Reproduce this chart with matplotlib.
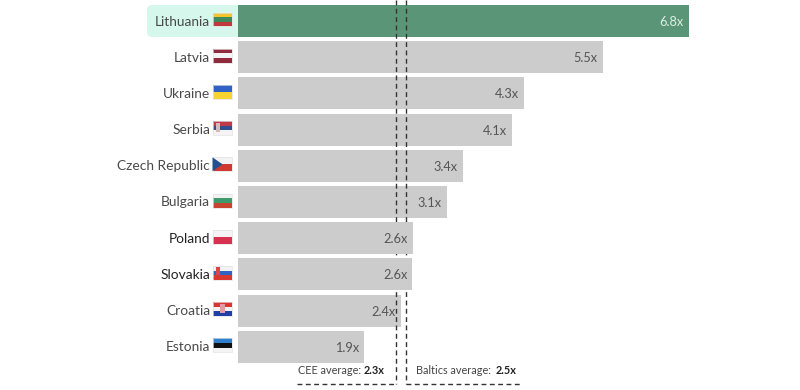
import matplotlib.pyplot as plt
from matplotlib.patches import Rectangle, FancyBboxPatch, Polygon

countries = ['Lithuania', 'Latvia', 'Ukraine', 'Serbia', 'Czech Republic',
             'Bulgaria', 'Poland', 'Slovakia', 'Croatia', 'Estonia']
values = [6.8, 5.5, 4.31, 4.13, 3.39, 3.15, 2.64, 2.63, 2.46, 1.9]
labels = ['6.8x', '5.5x', '4.3x', '4.1x', '3.4x', '3.1x', '2.6x', '2.6x', '2.4x', '1.9x']
flags = [['#f5c52e', '#3f8a5c', '#c1393d'],
         ['#8f2b3c', '#f4f2f2', '#8f2b3c'],
         ['#2f62c4', '#f7d330'],
         ['#c0394b', '#2f4f8f', '#f4f4f4'],
         ['#f3f3f3', '#d0392f'],
         ['#f2f2f2', '#3c9a6c', '#c9442f'],
         ['#f5f3f3', '#d6324f'],
         ['#f2f2f2', '#2f62c4', '#d8362f'],
         ['#d8362f', '#f2f2f2', '#1f3fa8'],
         ['#2f7fcf', '#111111', '#f4f4f4']]
cee_avg = 2.39
baltics_avg = 2.54

plt.rcParams['font.family'] = ['Lato', 'DejaVu Sans']

fig = plt.figure(figsize=(8, 3.9), dpi=100)
ax = fig.add_axes([0, 0, 1, 1])
ppu = 66.3
pitch = 36.2
ax.set_xlim(-238 / ppu, 562 / ppu)
ax.set_ylim((390 - 21) / pitch, -21 / pitch)
ax.axis('off')

colors = ['#5b9577'] + ['#cccccc'] * 9
ypos = list(range(len(countries)))
bars = ax.barh(ypos, values, height=32 / pitch, color=colors, zorder=2)
# Poland and Slovakia sit on top of the average lines
bars[6].set_zorder(6)
bars[7].set_zorder(6)

# highlight behind Lithuania
ax.add_patch(FancyBboxPatch((-91 / ppu, -16 / pitch), 103 / ppu, 32 / pitch,
                            boxstyle='round,pad=0,rounding_size=0.08',
                            mutation_aspect=ppu / pitch,
                            fc='#d6f7ec', ec='none', zorder=1))
ax.add_patch(Rectangle((0, -16 / pitch), 14 / ppu, 32 / pitch, fc='#5b9577', ec='none', zorder=2))

for i, name in enumerate(countries):
    dark = name in ('Poland', 'Slovakia')
    ax.text(-28 / ppu, i + 0.5 / pitch, name, ha='right', va='center', fontsize=9.9,
            color='#222222' if dark else '#4a4a4a', zorder=7)
    ax.text(values[i] - 5 / ppu, i + 1 / pitch, labels[i], ha='right', va='center',
            fontsize=9.2, color='#dcefe5' if i == 0 else '#555555', zorder=7)
    # flag stripes
    stripes = flags[i]
    fh = 14 / pitch
    h = fh / len(stripes)
    top_y = i - 8.5 / pitch
    for k, c in enumerate(stripes):
        ax.add_patch(Rectangle((-25.5 / ppu, top_y + k * h), 19 / ppu, h,
                               fc=c, ec='none', zorder=3))
    ax.add_patch(Rectangle((-25.5 / ppu, top_y), 19 / ppu, fh, fc='none', ec='#e2e2e2', lw=0.5, zorder=3))

# flag details: czech triangle, coats of arms
ax.add_patch(Polygon([(-25.5 / ppu, 4 - 8.5 / pitch), (-25.5 / ppu, 4 + 5.5 / pitch),
                      (-15.5 / ppu, 4 - 1.5 / pitch)], fc='#23508f', ec='none', zorder=4))
ax.add_patch(Rectangle((-22 / ppu, 3 - 7 / pitch), 4 / ppu, 9 / pitch, fc='#d9b8b8', ec='none', zorder=4))
ax.add_patch(Rectangle((-22 / ppu, 7 - 7 / pitch), 4 / ppu, 8 / pitch, fc='#d8464a', ec='none', zorder=4))
ax.add_patch(Rectangle((-18 / ppu, 8 - 7 / pitch), 5 / ppu, 9 / pitch, fc='#e39aa0', ec='none', zorder=4))

# average lines
bottom = (384 - 21) / pitch
top = -21 / pitch
dash = dict(color='#333333', lw=1, ls=(0, (3.5, 2.5)), zorder=5)
ax.plot([cee_avg, cee_avg], [top, bottom], **dash)
ax.plot([baltics_avg, baltics_avg], [top, bottom], **dash)
ax.plot([(297 - 238) / ppu, cee_avg], [bottom, bottom], **dash)
ax.plot([baltics_avg, (520 - 238) / ppu], [bottom, bottom], **dash)

text_y = (371 - 21) / pitch
ax.text((298 - 238) / ppu, text_y, 'CEE average:', ha='left', va='center', fontsize=7.8, color='#444444')
ax.text((384 - 238) / ppu, text_y, '2.3x', ha='right', va='center', fontsize=7.8, color='#222222', fontweight='bold')
ax.text((416 - 238) / ppu, text_y, 'Baltics average:', ha='left', va='center', fontsize=7.8, color='#444444')
ax.text((516 - 238) / ppu, text_y, '2.5x', ha='right', va='center', fontsize=7.8, color='#222222', fontweight='bold')

fig.savefig('out.png', dpi=100)
